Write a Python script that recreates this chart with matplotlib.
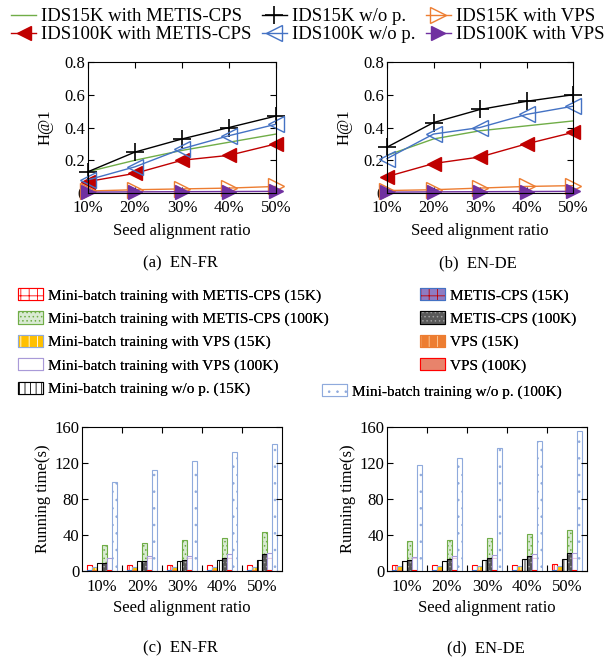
import numpy as np
import matplotlib
matplotlib.use('Agg')
import matplotlib.pyplot as plt
from matplotlib.patches import Patch

plt.rcParams['font.family'] = ['Liberation Serif', 'DejaVu Serif']
plt.rcParams['font.size'] = 12
plt.rcParams['hatch.linewidth'] = 0.6

# --- data ---
ratios = [10, 20, 30, 40, 50]
ratio_labels = ['10%', '20%', '30%', '40%', '50%']

# H@1, EN-FR
fr_15k_metis = [0.13, 0.20, 0.26, 0.31, 0.36]
fr_15k_wop = [0.13, 0.25, 0.33, 0.40, 0.47]
fr_15k_vps = [0.012, 0.02, 0.025, 0.03, 0.04]
fr_100k_metis = [0.07, 0.12, 0.20, 0.23, 0.30]
fr_100k_wop = [0.08, 0.16, 0.27, 0.35, 0.42]
fr_100k_vps = [0.005, 0.007, 0.008, 0.009, 0.01]

# H@1, EN-DE
de_15k_metis = [0.23, 0.33, 0.38, 0.41, 0.44]
de_15k_wop = [0.28, 0.43, 0.51, 0.56, 0.60]
de_15k_vps = [0.015, 0.02, 0.03, 0.04, 0.045]
de_100k_metis = [0.10, 0.18, 0.22, 0.30, 0.37]
de_100k_wop = [0.21, 0.36, 0.40, 0.48, 0.53]
de_100k_vps = [0.005, 0.007, 0.008, 0.009, 0.01]

# running time (s), EN-FR
fr_mb_metis_15k = [7, 7, 7, 7, 7]
fr_mb_metis_100k = [29, 31.5, 34, 37, 43.5]
fr_mb_vps_15k = [5, 5, 5, 5, 5]
fr_mb_vps_100k = [15, 17, 17, 19, 20]
fr_mb_wop_15k = [9.3, 10.8, 11.2, 12.6, 12.6]
fr_mb_wop_100k = [98.5, 112.5, 122.5, 132, 141.5]
fr_metis_15k = [1, 1, 1, 1, 1]
fr_metis_100k = [9.3, 10.8, 12, 14, 19]
fr_vps_15k = [1.5, 1.5, 1.5, 1.5, 1.5]
fr_vps_100k = [1, 1, 1, 1, 1]

# running time (s), EN-DE
de_mb_metis_15k = [7, 7, 7, 7, 8]
de_mb_metis_100k = [33, 35, 37, 41, 46]
de_mb_vps_15k = [5.5, 5.5, 5.5, 5.5, 5.5]
de_mb_vps_100k = [16, 17, 18, 19, 20.5]
de_mb_wop_15k = [11, 11, 12, 13.5, 13.5]
de_mb_wop_100k = [118, 126, 137, 145, 155.5]
de_metis_15k = [1, 1, 1, 1, 1]
de_metis_100k = [12, 13, 15, 16.5, 20.5]
de_vps_15k = [1.5, 1.5, 1.5, 1.5, 1.5]
de_vps_100k = [1, 1, 1, 1, 1]

line_labels = ['IDS15K with METIS-CPS', 'IDS100K with METIS-CPS', 'IDS15K w/o p.',
               'IDS100K w/o p.', 'IDS15K with VPS', 'IDS100K with VPS']
line_styles = [
    dict(color='#70ad47', lw=1.0),
    dict(color='#c00000', lw=1.0, marker='<', ms=10),
    dict(color='black', lw=1.0, marker='+', ms=13, mew=1.2),
    dict(color='#4472c4', lw=1.0, marker='<', ms=11, mfc='none', mew=1.0),
    dict(color='#ed7d31', lw=1.0, marker='>', ms=11, mfc='none', mew=1.0),
    dict(color='#7030a0', lw=1.0, marker='>', ms=10),
]

# bar styles: (face, hatch colour, hatch, edge)
bar_styles = {
    'mb_metis_15k': ('white', '#ff0000', '++', '#ff0000'),
    'mb_metis_100k': ('#d9ead3', '#70ad47', '....', '#70ad47'),
    'mb_vps_15k': ('#ffc000', 'white', '||', '#8faadc'),
    'mb_vps_100k': ('white', '#e6b9d8', '-', '#a99ad8'),
    'mb_wop_15k': ('white', 'black', '|||', 'black'),
    'mb_wop_100k': ('white', '#8faadc', '..', '#8faadc'),
    'metis_15k': ('#8e7cc3', '#c00000', '++', '#4472c4'),
    'metis_100k': ('#595959', '#a0a0a0', '....', 'black'),
    'vps_15k': ('#ed7d31', '#ffd0a0', '||', '#ed7d31'),
    'vps_100k': ('#e8836b', '#c04040', '-', '#ff0000'),
}
bar_names = {
    'mb_metis_15k': 'Mini-batch training with METIS-CPS (15K)',
    'mb_metis_100k': 'Mini-batch training with METIS-CPS (100K)',
    'mb_vps_15k': 'Mini-batch training with VPS (15K)',
    'mb_vps_100k': 'Mini-batch training with VPS (100K)',
    'mb_wop_15k': 'Mini-batch training w/o p. (15K)',
    'mb_wop_100k': 'Mini-batch training w/o p. (100K)',
    'metis_15k': 'METIS-CPS (15K)',
    'metis_100k': 'METIS-CPS (100K)',
    'vps_15k': 'VPS (15K)',
    'vps_100k': 'VPS (100K)',
}
# slot of each series inside a group (partition bars overlay their mini-batch bar)
slots = {'mb_metis_15k': 0, 'metis_15k': 0, 'mb_vps_15k': 1, 'vps_15k': 1,
         'mb_wop_15k': 2, 'mb_metis_100k': 3, 'metis_100k': 3,
         'mb_vps_100k': 4, 'vps_100k': 4, 'mb_wop_100k': 5}
draw_order = ['mb_metis_15k', 'metis_15k', 'mb_vps_15k', 'vps_15k', 'mb_wop_15k',
              'mb_metis_100k', 'metis_100k', 'mb_vps_100k', 'vps_100k', 'mb_wop_100k']

fr_bars = dict(mb_metis_15k=fr_mb_metis_15k, mb_metis_100k=fr_mb_metis_100k,
               mb_vps_15k=fr_mb_vps_15k, mb_vps_100k=fr_mb_vps_100k,
               mb_wop_15k=fr_mb_wop_15k, mb_wop_100k=fr_mb_wop_100k,
               metis_15k=fr_metis_15k, metis_100k=fr_metis_100k,
               vps_15k=fr_vps_15k, vps_100k=fr_vps_100k)
de_bars = dict(mb_metis_15k=de_mb_metis_15k, mb_metis_100k=de_mb_metis_100k,
               mb_vps_15k=de_mb_vps_15k, mb_vps_100k=de_mb_vps_100k,
               mb_wop_15k=de_mb_wop_15k, mb_wop_100k=de_mb_wop_100k,
               metis_15k=de_metis_15k, metis_100k=de_metis_100k,
               vps_15k=de_vps_15k, vps_100k=de_vps_100k)

W, H = 615, 663
fig = plt.figure(figsize=(W / 100, H / 100), dpi=100)


def px_axes(left, right, top, bottom):
    return fig.add_axes([left / W, 1 - bottom / H, (right - left) / W, (bottom - top) / H])


def style_ax(ax):
    ax.tick_params(direction='in', top=True, right=True, length=4, width=0.8, labelsize=12, pad=2)
    for s in ax.spines.values():
        s.set_linewidth(0.8)


def draw_lines(ax, series):
    handles = []
    for vals, st in zip(series, line_styles):
        h, = ax.plot(ratios, vals, clip_on=False, **st)
        handles.append(h)
    ax.set_xlim(10, 50)
    ax.set_ylim(0, 0.8)
    ax.set_xticks(ratios)
    ax.set_xticklabels(ratio_labels)
    ax.set_yticks([0, 0.2, 0.4, 0.6, 0.8])
    ax.set_yticklabels(['0', '0.2', '0.4', '0.6', '0.8'])
    style_ax(ax)
    ax.tick_params(axis='x', pad=5)
    ax.set_xlabel('Seed alignment ratio', fontsize=12, labelpad=5)
    ax.set_ylabel('H@1', fontsize=12, labelpad=8)
    return handles


bw = 0.125


def draw_bars(ax, data):
    x = np.arange(len(ratios))
    for name in draw_order:
        face, hc, hatch, edge = bar_styles[name]
        pos = x + (slots[name] - 2.5) * bw
        ax.bar(pos, data[name], bw, color=face, edgecolor=hc, hatch=hatch, linewidth=0)
        ax.bar(pos, data[name], bw, fill=False, edgecolor=edge, linewidth=0.8)
    ax.set_xlim(-0.5, 4.5)
    ax.set_ylim(0, 160)
    ax.set_xticks(x[:-1] + 0.5)
    ax.set_xticklabels([])
    ax.set_xticks(x, minor=True)
    ax.set_xticklabels(ratio_labels, minor=True)
    ax.set_yticks([0, 40, 80, 120, 160])
    style_ax(ax)
    ax.tick_params(axis='x', which='minor', length=0, pad=6, labelsize=12)
    ax.set_xlabel('Seed alignment ratio', fontsize=12, labelpad=3)
    ax.set_ylabel('Running time(s)', fontsize=12, labelpad=2)


ax1 = px_axes(88, 276, 62, 193)
hl = draw_lines(ax1, [fr_15k_metis, fr_100k_metis, fr_15k_wop, fr_100k_wop, fr_15k_vps, fr_100k_vps])
ax2 = px_axes(387, 573, 62, 193)
draw_lines(ax2, [de_15k_metis, de_100k_metis, de_15k_wop, de_100k_wop, de_15k_vps, de_100k_vps])
ax3 = px_axes(82, 282, 427, 571)
draw_bars(ax3, fr_bars)
ax4 = px_axes(387, 587, 427, 571)
draw_bars(ax4, de_bars)

fig.legend(hl, line_labels, ncol=3, loc='upper left', bbox_to_anchor=(11 / W, 1 - 8 / H),
           frameon=False, fontsize=13.5, handlelength=1.35, handletextpad=0.25,
           columnspacing=0.55, labelspacing=0.05, borderpad=0, borderaxespad=0)


def bar_handle(name):
    face, hc, hatch, edge = bar_styles[name]
    return (Patch(facecolor=face, edgecolor=hc, hatch=hatch, linewidth=0),
            Patch(fill=False, edgecolor=edge, linewidth=0.8))


def bar_legend(names, x, y):
    leg = fig.legend([bar_handle(n) for n in names], [bar_names[n] for n in names],
                     loc='upper left', bbox_to_anchor=(x / W, 1 - y / H), frameon=False,
                     fontsize=11, handlelength=1.63, handleheight=0.85, handletextpad=0.33,
                     labelspacing=0.58, borderpad=0, borderaxespad=0)
    fig.add_artist(leg)


bar_legend(['mb_metis_15k', 'mb_metis_100k', 'mb_vps_15k', 'mb_vps_100k', 'mb_wop_15k'], 18, 288)
bar_legend(['metis_15k', 'metis_100k', 'vps_15k', 'vps_100k'], 420, 288)
bar_legend(['mb_wop_100k'], 322, 384)

fig.text(180 / W, 1 - 263 / H, '(a)  EN-FR', ha='center', va='center', fontsize=12)
fig.text(478 / W, 1 - 263 / H, '(b)  EN-DE', ha='center', va='center', fontsize=12)
fig.text(180 / W, 1 - 648 / H, '(c)  EN-FR', ha='center', va='center', fontsize=12)
fig.text(486 / W, 1 - 648 / H, '(d)  EN-DE', ha='center', va='center', fontsize=12)

fig.savefig('out.png', dpi=100)
